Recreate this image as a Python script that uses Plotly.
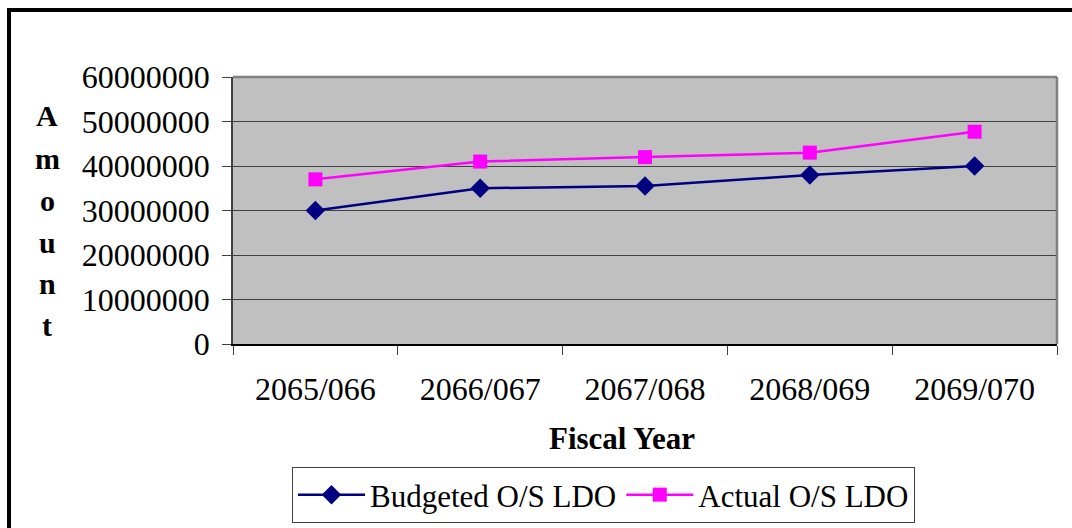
import plotly.graph_objects as go

# Fiscal years and outstanding LDO amounts
fiscal_years = ["2065/066", "2066/067", "2067/068", "2068/069", "2069/070"]
budgeted_ldo = [30000000, 35000000, 35500000, 38000000, 40000000]
actual_ldo = [37000000, 41000000, 42000000, 43000000, 47700000]
y_ticks = [0, 10000000, 20000000, 30000000, 40000000, 50000000, 60000000]

W, H = 1072, 528
L, R, T, B = 233, 15, 77, 184
PW, PH = W - L - R, H - T - B


def px_x(x):
    return (x - L) / PW


def px_y(y):
    return (H - B - y) / PH


SERIF = "Liberation Serif"

fig = go.Figure()
fig.add_trace(go.Scatter(
    x=fiscal_years, y=budgeted_ldo, name="Budgeted O/S LDO",
    mode="lines+markers",
    line=dict(color="#000080", width=2.5),
    marker=dict(symbol="diamond", size=15, color="#000080"),
))
fig.add_trace(go.Scatter(
    x=fiscal_years, y=actual_ldo, name="Actual O/S LDO",
    mode="lines+markers",
    line=dict(color="#FF00FF", width=2.5),
    marker=dict(symbol="square", size=14, color="#FF00FF"),
))

fig.update_layout(
    width=W, height=H,
    margin=dict(l=L, r=R, t=T, b=B, autoexpand=False),
    paper_bgcolor="white",
    plot_bgcolor="#C0C0C0",
    font=dict(family=SERIF, size=31, color="black"),
    showlegend=True,
    legend=dict(
        orientation="h",
        x=px_x(292), y=px_y(467), xanchor="left", yanchor="top",
        bordercolor="#404040", borderwidth=1, bgcolor="white",
        font=dict(family=SERIF, size=31, color="black"),
        itemwidth=67, tracegroupgap=0,
    ),
    xaxis=dict(
        type="category", range=[-0.5, 4.5],
        showgrid=False, zeroline=False,
        showline=True, linecolor="black", linewidth=2,
        ticks="outside", tickson="boundaries", ticklen=9,
        tickcolor="#404040", tickwidth=1,
        ticklabelstandoff=16,
        tickfont=dict(family=SERIF, size=32, color="black"),
    ),
    yaxis=dict(
        range=[0, 60000000], tickvals=y_ticks,
        ticktext=[str(v) for v in y_ticks],
        showgrid=True, gridcolor="#404040", gridwidth=1,
        zeroline=False,
        showline=True, linecolor="#404040", linewidth=1.5,
        ticks="outside", ticklen=9, tickcolor="#404040", tickwidth=1,
        ticklabelstandoff=6,
        tickfont=dict(family=SERIF, size=32, color="black"),
    ),
)

shapes = [
    # top and right border of the plot area
    dict(type="line", xref="paper", yref="paper", x0=0, x1=1, y0=1, y1=1,
         line=dict(color="#808080", width=2.5)),
    dict(type="line", xref="paper", yref="paper", x0=1, x1=1, y0=0, y1=1,
         line=dict(color="#808080", width=2.5)),
    # outer chart frame
    dict(type="rect", xref="paper", yref="paper",
         x0=px_x(9), x1=px_x(1090), y0=px_y(10), y1=px_y(560),
         line=dict(color="black", width=4), layer="below"),
]
fig.update_layout(shapes=shapes)

# axis titles
annotations = [
    dict(text="<b>Fiscal Year</b>", xref="paper", yref="paper",
         x=px_x(622), y=px_y(438), xanchor="center", yanchor="middle",
         showarrow=False, font=dict(family=SERIF, size=31, color="black")),
]
letter_y = [115, 158, 200, 242, 283, 325]
for ch, yy in zip("Amount", letter_y):
    annotations.append(dict(
        text=f"<b>{ch}</b>", xref="paper", yref="paper",
        x=px_x(47), y=px_y(yy), xanchor="center", yanchor="middle",
        showarrow=False, font=dict(family=SERIF, size=30, color="black")))
fig.update_layout(annotations=annotations)

fig.write_html("out.html")
